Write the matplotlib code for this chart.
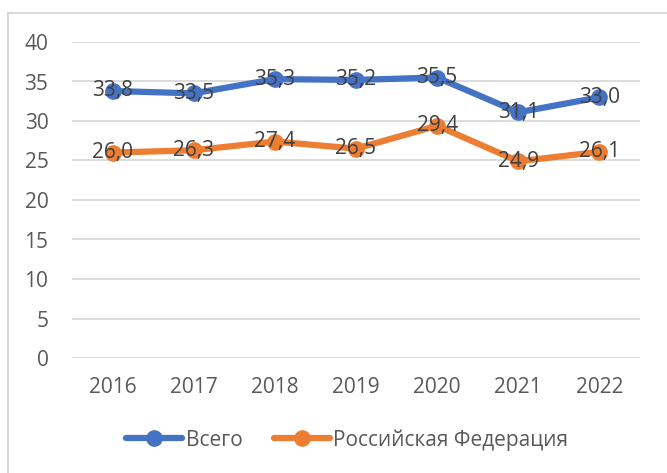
import matplotlib.pyplot as plt
from matplotlib.patches import Rectangle

years = ["2016", "2017", "2018", "2019", "2020", "2021", "2022"]
vsego = [33.8, 33.5, 35.3, 35.2, 35.5, 31.1, 33.0]
rf = [26.0, 26.3, 27.4, 26.5, 29.4, 24.9, 26.1]
series_names = ["Всего", "Российская Федерация"]

BLUE = "#4472C4"
ORANGE = "#ED7D31"
GRID = "#D9D9D9"
TICK = "#595959"
LABEL = "#404040"

plt.rcParams["font.family"] = ["Open Sans", "DejaVu Sans"]
FS = 15

fig = plt.figure(figsize=(6.67, 4.73), dpi=100)
fig.patches.append(
    Rectangle((8 / 667, -0.1), 1.2, 1 - 13 / 473 + 0.1, transform=fig.transFigure,
              fill=False, edgecolor=GRID, linewidth=1.5)
)
ax = fig.add_axes([72 / 667, 1 - 358 / 473, 568 / 667, 316 / 473])

x = list(range(len(years)))
for vals, color, name in [(vsego, BLUE, series_names[0]), (rf, ORANGE, series_names[1])]:
    ax.plot(x, vals, color=color, linewidth=4.5, marker="o", markersize=11,
            solid_capstyle="round", label=name, zorder=3)
    for xi, v in zip(x, vals):
        ax.text(xi, v, f"{v:.1f}".replace(".", ","), ha="center", va="center",
                fontsize=FS, color=LABEL, zorder=4)

ax.set_xlim(-0.5, len(years) - 0.5)
ax.set_ylim(0, 40)
ax.set_yticks(range(0, 41, 5))
ax.set_xticks(x)
ax.set_xticklabels(years)
ax.yaxis.grid(True, color=GRID, linewidth=1.3)
ax.set_axisbelow(True)
for s in ax.spines.values():
    s.set_visible(False)
ax.tick_params(axis="both", length=0, labelsize=FS, colors=TICK)
ax.tick_params(axis="y", pad=17)
ax.tick_params(axis="x", pad=14)

leg = fig.legend(loc="center", bbox_to_anchor=(347 / 667, 1 - 440 / 473), ncol=2,
                 frameon=False, fontsize=FS, handlelength=2.7, columnspacing=1.5,
                 handletextpad=0.15)
for t in leg.get_texts():
    t.set_color(TICK)

fig.savefig("out.png", dpi=100)
